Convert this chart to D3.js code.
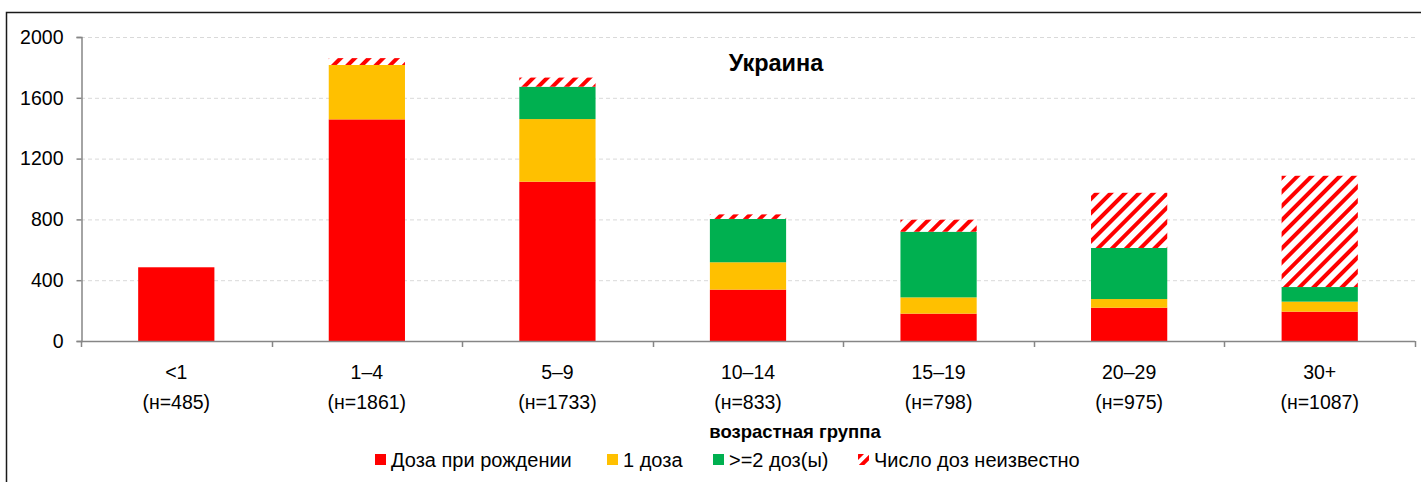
<!DOCTYPE html>
<html>
<head>
<meta charset="utf-8">
<script src="https://cdn.jsdelivr.net/npm/d3@7"></script>
<style>
  html, body { margin: 0; padding: 0; background: #fff; }
  svg { display: block; font-family: "Liberation Sans", Arial, sans-serif; }
</style>
</head>
<body>
<svg id="chart" width="1421" height="482"></svg>
<script>
// ---- data ----
const categories = ["<1", "1–4", "5–9", "10–14", "15–19", "20–29", "30+"];
const totals = [485, 1861, 1733, 833, 798, 975, 1087];
const birthDose = [485, 1458, 1048, 338, 180, 219, 193];
const oneDose = [0, 358, 412, 180, 107, 57, 66];
const twoPlusDoses = [0, 0, 213, 285, 432, 336, 96];
const unknownDoses = [0, 45, 60, 30, 79, 363, 732];
const yTicks = [0, 400, 800, 1200, 1600, 2000];
const seriesNames = ["Доза при рождении", "1 доза", ">=2 доз(ы)", "Число доз неизвестно"];
const chartTitle = "Украина";
const xAxisTitle = "возрастная группа";

// ---- layout ----
const W = 1421, H = 482;
const plot = { left: 81, right: 1415, top: 37, bottom: 341 };
const colors = ["#ff0000", "#ffc000", "#00b050", "url(#hatch)"];

const svg = d3.select("#chart");
const defs = svg.append("defs");
const pat = defs.append("pattern")
  .attr("id", "hatch")
  .attr("patternUnits", "userSpaceOnUse")
  .attr("width", 10).attr("height", 10)
  .attr("patternTransform", "rotate(45)");
pat.append("rect").attr("width", 10).attr("height", 10).attr("fill", "#fff");
pat.append("rect").attr("x", 0).attr("y", 0).attr("width", 4).attr("height", 10).attr("fill", "#ff0000");

const patL = defs.append("pattern")
  .attr("id", "hatchLegend")
  .attr("patternUnits", "userSpaceOnUse")
  .attr("width", 8).attr("height", 8)
  .attr("patternTransform", "rotate(45)");
patL.append("rect").attr("width", 8).attr("height", 8).attr("fill", "#fff");
patL.append("rect").attr("x", 0).attr("y", 0).attr("width", 4).attr("height", 8).attr("fill", "#ff0000");

// frame
svg.append("rect")
  .attr("x", 6.5).attr("y", 12.5)
  .attr("width", W + 10).attr("height", H + 10)
  .attr("fill", "none").attr("stroke", "#1a1a1a").attr("stroke-width", 1.5);

const x = d3.scaleBand()
  .domain(categories)
  .range([plot.left, plot.right])
  .paddingInner(0.6)
  .paddingOuter(0.3);

const y = d3.scaleLinear()
  .domain([0, 2000])
  .range([plot.bottom, plot.top]);

// gridlines
svg.append("g")
  .selectAll("line")
  .data(yTicks.filter(d => d > 0))
  .join("line")
  .attr("x1", plot.left).attr("x2", plot.right)
  .attr("y1", d => y(d) + 0.5).attr("y2", d => y(d) + 0.5)
  .attr("stroke", "#d9d9d9")
  .attr("stroke-dasharray", "4,3")
  .attr("stroke-width", 1);

// stacked data
const keys = ["birth", "one", "two", "unk"];
const rows = categories.map((c, i) => ({
  cat: c, birth: birthDose[i], one: oneDose[i], two: twoPlusDoses[i], unk: unknownDoses[i]
}));
const stack = d3.stack().keys(keys)(rows);

svg.append("g")
  .selectAll("g")
  .data(stack)
  .join("g")
  .attr("fill", (d, i) => colors[i])
  .selectAll("rect")
  .data(d => d.filter(s => s[1] - s[0] > 0))
  .join("rect")
  .attr("x", d => x(d.data.cat))
  .attr("width", x.bandwidth())
  .attr("y", d => y(d[1]))
  .attr("height", d => y(d[0]) - y(d[1]));

// y axis
const yAxis = d3.axisLeft(y).tickValues(yTicks).tickSize(5).tickPadding(13).tickFormat(d3.format("d"));
const gy = svg.append("g").attr("transform", `translate(${plot.left + 0.5},0)`).call(yAxis);
gy.select(".domain").attr("stroke", "#868686").attr("stroke-width", 1.5);
gy.selectAll(".tick line").attr("stroke", "#868686").attr("stroke-width", 1.5);
gy.selectAll(".tick text")
  .attr("font-size", 19.5)
  .attr("fill", "#000")
  .attr("font-family", "'Liberation Sans', Arial, sans-serif");

// x axis line & ticks
const step = x.step();
const offset = (step - x.bandwidth()) / 2;
svg.append("line")
  .attr("x1", plot.left).attr("x2", plot.right)
  .attr("y1", plot.bottom + 0.5).attr("y2", plot.bottom + 0.5)
  .attr("stroke", "#868686").attr("stroke-width", 1.5);
const boundaries = categories.map(c => x(c) - offset).concat([x(categories[categories.length - 1]) + x.bandwidth() + offset]);
svg.append("g")
  .selectAll("line")
  .data(boundaries)
  .join("line")
  .attr("x1", d => Math.round(d) + 0.5).attr("x2", d => Math.round(d) + 0.5)
  .attr("y1", plot.bottom).attr("y2", plot.bottom + 6)
  .attr("stroke", "#868686").attr("stroke-width", 1.5);

// x labels
const xl = svg.append("g").attr("font-size", 19.5).attr("fill", "#000").attr("text-anchor", "middle");
xl.selectAll("text.cat")
  .data(categories)
  .join("text")
  .attr("class", "cat")
  .attr("x", d => x(d) + x.bandwidth() / 2)
  .attr("y", 379)
  .text(d => d);
xl.selectAll("text.n")
  .data(categories)
  .join("text")
  .attr("class", "n")
  .attr("x", d => x(d) + x.bandwidth() / 2)
  .attr("y", 409)
  .text((d, i) => `(н=${totals[i]})`);

// axis title
svg.append("text")
  .attr("x", 795).attr("y", 438)
  .attr("text-anchor", "middle")
  .attr("font-size", 18.5).attr("font-weight", "bold")
  .text(xAxisTitle);

// chart title
svg.append("text")
  .attr("x", 776).attr("y", 71)
  .attr("text-anchor", "middle")
  .attr("font-size", 23.5).attr("font-weight", "bold")
  .text(chartTitle);

// legend
const legendX = [375, 607, 713, 858];
const legendFill = ["#ff0000", "#ffc000", "#00b050", "url(#hatchLegend)"];
const lg = svg.append("g");
seriesNames.forEach((name, i) => {
  lg.append("rect")
    .attr("x", legendX[i]).attr("y", 454)
    .attr("width", 11).attr("height", 11)
    .attr("fill", legendFill[i]);
  lg.append("text")
    .attr("x", legendX[i] + 16).attr("y", 467)
    .attr("font-size", 20)
    .attr("fill", "#000")
    .text(name);
});
</script>
</body>
</html>
